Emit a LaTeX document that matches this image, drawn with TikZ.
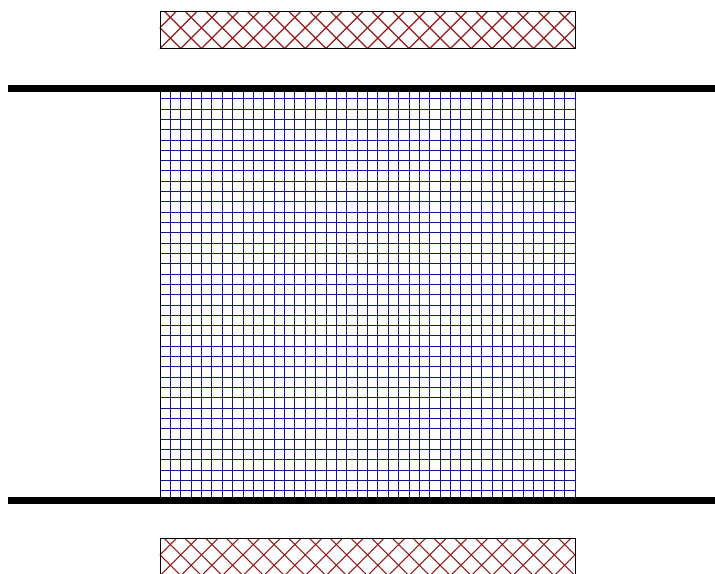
\documentclass[tikz,border=0pt]{standalone}
\usepackage{xcolor}
\usepackage{tikz}

\definecolor{meshblue}{RGB}{20,20,140}
\definecolor{hatchred}{RGB}{150,25,25}

\begin{document}
\begin{tikzpicture}
[wall/.style={line width=4.8pt, draw=black},
mesh/.style={draw=meshblue, line width=0.6pt},
boxline/.style={draw=black, line width=0.5pt},
hatch/.style={draw=hatchred, line width=0.8pt}]

\useasboundingbox (-3.855,-1.74) rectangle (13.373,12.07);

% mesh
\draw[mesh, xstep=0.25, ystep=0.2485] (0,0) grid (10,9.94);
\draw[black, line width=0.6pt] (0,0) -- (0,9.94);

% walls
\draw[wall] (-3.66,9.94) -- (13.373,9.94);
\draw[wall] (-3.66,0) -- (13.373,0);

% hatched boxes above and below
\foreach \y in {10.9,-1.8} {
  \begin{scope}
    \clip (0,\y) rectangle (10,\y+0.9);
    \foreach \c in {-1,-0.5,...,11} {
      \draw[hatch] (\c,\y) -- ++(1,1);
      \draw[hatch] (\c,\y) -- ++(-1,1);
    }
  \end{scope}
  \draw[boxline] (0,\y) rectangle (10,\y+0.9);
}
\end{tikzpicture}
\end{document}
